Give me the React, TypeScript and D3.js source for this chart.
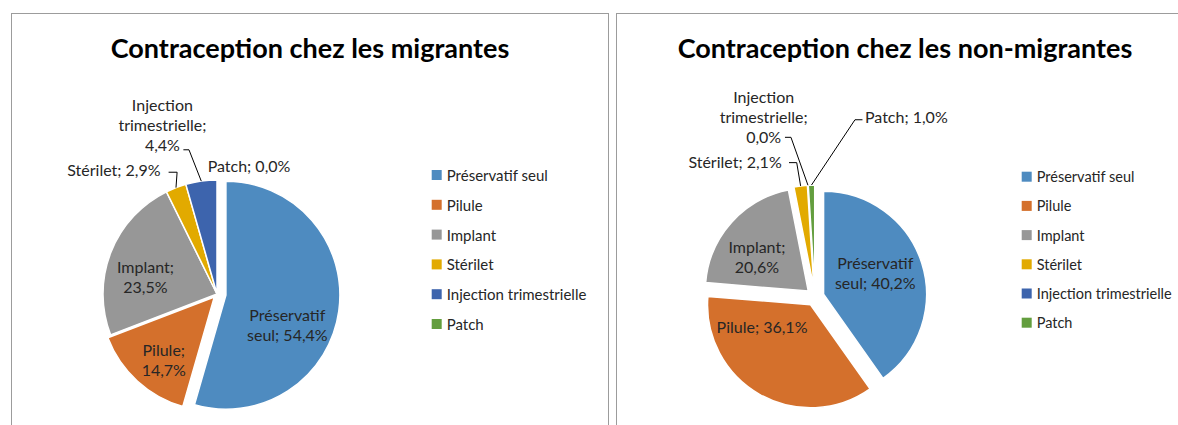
import React from 'react';
import * as d3 from 'd3';

// categories and values (percent)
const categories = ['Préservatif seul', 'Pilule', 'Implant', 'Stérilet', 'Injection trimestrielle', 'Patch'];
const migrantesValues = [54.4, 14.7, 23.5, 2.9, 4.4, 0.0];
const nonMigrantesValues = [40.2, 36.1, 20.6, 2.1, 0.0, 1.0];
const colors = ['#4e8bc0', '#d4702c', '#979797', '#e2aa00', '#3d64ad', '#639e3e'];

const FONT = 'Lato, "Open Sans", sans-serif';
const W = 1178;
const H = 425;

type LabelCfg = {
  lines: (v: string) => string[];
  outer?: boolean;
  dx: number;
  dy: number;
  anchor: 'start' | 'middle' | 'end';
  leader?: { ex: number; ey: number; h: number };
};

const fmt = (v: number) => v.toFixed(1).replace('.', ',') + '%';

// label layout for the left pie (relative to centroid, or to the outer arc point for outer ones)
const leftLabels: LabelCfg[] = [
  { lines: v => ['Préservatif', 'seul; ' + v], dx: 5, dy: 21, anchor: 'middle' },
  { lines: v => ['Pilule;', v], dx: -12, dy: 21, anchor: 'middle' },
  { lines: v => ['Implant;', v], dx: -18.5, dy: 3.5, anchor: 'middle' },
  { lines: v => ['Stérilet; ' + v], outer: true, dx: -15.4, dy: -17.9, anchor: 'end', leader: { ex: 8, ey: 2.5, h: 8.5 } },
  { lines: v => ['Injection', 'trimestrielle;', v], outer: true, dx: -38.9, dy: -76.3, anchor: 'middle', leader: { ex: 21, ey: 45, h: 5.6 } },
  { lines: v => ['Patch; ' + v], outer: true, dx: 32, dy: -15, anchor: 'middle' },
];

const rightLabels: LabelCfg[] = [
  { lines: v => ['Préservatif', 'seul; ' + v], dx: 2.6, dy: -5.7, anchor: 'middle' },
  { lines: v => ['Pilule; ' + v], dx: -23, dy: -23, anchor: 'middle' },
  { lines: v => ['Implant;', v], dx: -13, dy: 0, anchor: 'middle' },
  { lines: v => ['Stérilet; ' + v], outer: true, dx: -18.9, dy: -24.3, anchor: 'end', leader: { ex: 7.3, ey: 1, h: 7.7 } },
  { lines: v => ['Injection', 'trimestrielle;', v], outer: true, dx: -44.3, dy: -89.2, anchor: 'middle', leader: { ex: 21.3, ey: 41.3, h: 6 } },
  { lines: v => ['Patch; ' + v], outer: true, dx: 53.5, dy: -68.3, anchor: 'start', leader: { ex: -2.5, ey: 3, h: -7.5 } },
];

type PieProps = {
  title: string;
  values: number[];
  cx: number;
  cy: number;
  r: number;
  explode: number[];
  labels: LabelCfg[];
  titleX: number;
  legendX: number;
  legendY: number;
  legendStep: number;
  legendFont: number;
};

function PiePanel({ title, values, cx, cy, r, explode, labels, titleX, legendX, legendY, legendStep, legendFont }: PieProps) {
  const pie = d3.pie<number>().sort(null).value(d => d);
  const arcs = pie(values);
  const arc = d3.arc<d3.PieArcDatum<number>>().innerRadius(0).outerRadius(r);
  const lineH = 20;

  const legendScale = d3
    .scalePoint<string>()
    .domain(categories)
    .range([legendY, legendY + legendStep * (categories.length - 1)]);

  return (
    <g>
      <text x={titleX} y={47} textAnchor="middle" dominantBaseline="central" fontFamily={FONT} fontWeight="bold" fontSize={27} fill="#000">
        {title}
      </text>
      <g transform={`translate(${cx},${cy})`}>
        {arcs.map((a, i) => {
          const mid = (a.startAngle + a.endAngle) / 2;
          const [ox, oy] = d3.pointRadial(mid, explode[i]);
          if (a.endAngle - a.startAngle <= 0) return null;
          return (
            <path key={i} d={arc(a) || ''} transform={`translate(${ox},${oy})`} fill={colors[i]} stroke="#fff" strokeWidth={1.5} />
          );
        })}
        {arcs.map((a, i) => {
          const cfg = labels[i];
          const mid = (a.startAngle + a.endAngle) / 2;
          const [ox, oy] = d3.pointRadial(mid, explode[i]);
          const lines = cfg.lines(fmt(a.data));
          let bx: number, by: number;
          let arcPt: [number, number] = [0, 0];
          if (cfg.outer) {
            arcPt = d3.pointRadial(mid, r + explode[i]) as [number, number];
            bx = arcPt[0] + cfg.dx;
            by = arcPt[1] + cfg.dy;
          } else {
            const [c0, c1] = arc.centroid(a);
            bx = c0 + ox + cfg.dx;
            by = c1 + oy + cfg.dy - ((lines.length - 1) * lineH) / 2;
          }
          let leader = null;
          if (cfg.leader) {
            const p1: [number, number] = [bx + cfg.leader.ex, by + cfg.leader.ey];
            const p2: [number, number] = [p1[0] + cfg.leader.h, p1[1]];
            leader = <path d={d3.line()([p1, p2, arcPt]) || ''} fill="none" stroke="#000" strokeWidth={1} />;
          }
          return (
            <g key={'l' + i}>
              {leader}
              <text textAnchor={cfg.anchor} fontFamily={FONT} fontSize={16} fill="#262626">
                {lines.map((t, j) => (
                  <tspan key={j} x={bx} y={by + j * lineH} dominantBaseline="central">
                    {t}
                  </tspan>
                ))}
              </text>
            </g>
          );
        })}
      </g>
      <g>
        {categories.map((name, i) => (
          <g key={name} transform={`translate(${legendX},${legendScale(name) || 0})`}>
            <rect x={0} y={-5} width={10} height={10} fill={colors[i]} />
            <text x={15} y={0} dominantBaseline="central" fontFamily={FONT} fontSize={legendFont} fill="#262626">
              {name}
            </text>
          </g>
        ))}
      </g>
    </g>
  );
}

export default function App() {
  return (
    <div style={{ position: 'absolute', left: 0, top: 0, width: W, height: H, background: '#fff' }}>
      <svg width={W} height={H} style={{ display: 'block' }}>
        <rect x={11.5} y={13.5} width={597} height={430} fill="#fff" stroke="#9c9c9c" strokeWidth={1} />
        <rect x={616.5} y={13.5} width={600} height={430} fill="#fff" stroke="#9c9c9c" strokeWidth={1} />
        <PiePanel
          title="Contraception chez les migrantes"
          values={migrantesValues}
          cx={217}
          cy={294}
          r={114}
          explode={[9, 4, 0, 0, 0, 0]}
          labels={leftLabels}
          titleX={310}
          legendX={431.7}
          legendY={175}
          legendStep={29.8}
          legendFont={15}
        />
        <PiePanel
          title="Contraception chez les non-migrantes"
          values={nonMigrantesValues}
          cx={815}
          cy={297}
          r={103}
          explode={[9, 9, 9, 9, 9, 9]}
          labels={rightLabels}
          titleX={905}
          legendX={1021.7}
          legendY={176.7}
          legendStep={29.2}
          legendFont={14.5}
        />
      </svg>
    </div>
  );
}
